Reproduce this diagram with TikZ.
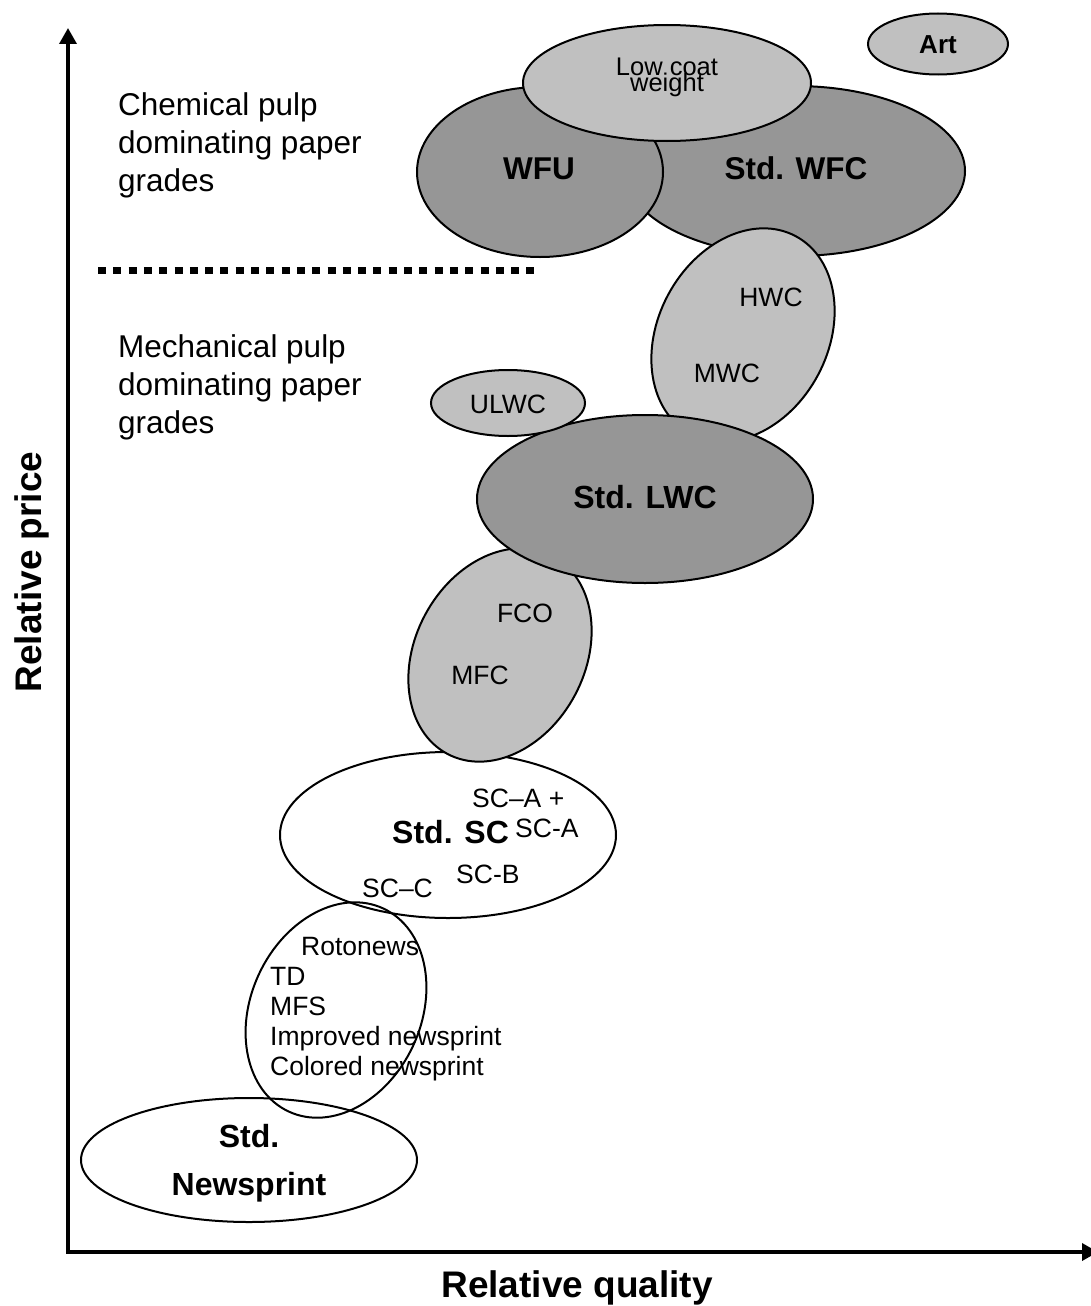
\documentclass[tikz,border=0pt]{standalone}
\usepackage{fontspec}
\setmainfont{Liberation Sans}
\usetikzlibrary{shapes.geometric,arrows.meta}

\definecolor{darkgrey}{RGB}{150,150,150}
\definecolor{lightgrey}{RGB}{192,192,192}

\tikzset{
  x=1pt, y=1pt,
  blob/.style={ellipse, draw=black, line width=2pt, inner sep=0pt},
  darkblob/.style={blob, fill=darkgrey},
  lightblob/.style={blob, fill=lightgrey},
  openblob/.style={blob},
  lbl/.style={inner sep=0pt, anchor=base, font=\fontsize{26.5}{30}\selectfont},
  lblw/.style={lbl, anchor=base west},
  boldlbl/.style={inner sep=0pt, anchor=base, font=\fontsize{32}{38}\selectfont\bfseries},
  boldlblw/.style={boldlbl, anchor=base west},
  zonetext/.style={inner sep=0pt, anchor=base west, font=\fontsize{31.5}{38}\selectfont},
  axistitle/.style={inner sep=0pt, anchor=base, font=\fontsize{37}{44}\selectfont\bfseries},
  axisline/.style={line width=3.5pt, line join=miter,
    {Triangle[length=16pt,width=17pt]}-{Triangle[length=16pt,width=17pt]}},
  divider/.style={line width=7pt, dash pattern=on 8pt off 7.3pt},
}

\begin{document}
\begin{tikzpicture}
\useasboundingbox (0,0) rectangle (1091,-1306);

% ---- chemical pulp grades ----
\node[darkblob, minimum width=340pt, minimum height=170pt] (wfc) at (795,-171) {};
\node[darkblob, minimum width=246pt, minimum height=170pt] (wfu) at (540,-172) {};
\node[lightblob, minimum width=288pt, minimum height=116pt] (lcw) at (667,-83) {};
\node[lightblob, minimum width=140pt, minimum height=61pt] (art) at (938,-44) {};

% ---- mechanical pulp grades ----
\node[lightblob, minimum width=224pt, minimum height=170pt, rotate=62] (hwc) at (743,-335) {};
\node[openblob, minimum width=336pt, minimum height=166pt] (sc) at (448,-835) {};
\node[openblob, minimum width=224pt, minimum height=170pt, rotate=65] (roto) at (336,-1010) {};
\node[openblob, minimum width=336pt, minimum height=124pt] (news) at (249,-1160) {};
\node[lightblob, minimum width=224pt, minimum height=170pt, rotate=62] (fco) at (500,-655) {};
\node[darkblob, minimum width=336pt, minimum height=168pt] (lwc) at (645,-499) {};
\node[lightblob, minimum width=154pt, minimum height=66pt] (ulwc) at (508,-403) {};

% ---- axes ----
\coordinate (ytip) at (68,-28);
\coordinate (origin) at (68,-1252);
\coordinate (xtip) at (1098,-1252);
\draw[axisline] (ytip) -- (origin) -- (xtip);

% ---- divider between the two groups ----
\coordinate (divL) at (98,-270);
\coordinate (divR) at (540,-270);
\draw[divider] (divL) -- (divR);

% ---- labels ----
\node[boldlbl, font=\fontsize{26}{30}\selectfont\bfseries] (tart) at (938,-53) {Art};
\node[lbl, font=\fontsize{25.5}{30}\selectfont] (tlcw1) at (667,-75) {Low coat};
\node[lbl, font=\fontsize{25.5}{30}\selectfont] (tlcw2) at (667,-91) {weight};
\node[boldlbl, font=\fontsize{31.5}{38}\selectfont\bfseries] (twfu) at (539,-179) {WFU};
\node[boldlbl, font=\fontsize{31.5}{38}\selectfont\bfseries] (twfc) at (796,-179) {Std. WFC};

\node[lbl] (thwc) at (771,-306) {HWC};
\node[lbl] (tmwc) at (727,-382) {MWC};
\node[lbl] (tulwc) at (508,-413) {ULWC};
\node[boldlbl] (tlwc) at (645,-508) {Std. LWC};
\node[lbl] (tfco) at (525,-622) {FCO};
\node[lbl] (tmfc) at (480,-684) {MFC};

\node[lblw] (tsca2) at (472,-807) {SC–A +};
\node[boldlblw] (tsc) at (392,-843) {Std. SC};
\node[lblw] (tsca) at (515,-837) {SC-A};
\node[lblw] (tscb) at (456,-883) {SC-B};
\node[lblw] (tscc) at (362,-897) {SC–C};

\node[lblw] (troto) at (301,-955) {Rotonews};
\node[lblw] (ttd) at (270,-985) {TD};
\node[lblw] (tmfs) at (270,-1015) {MFS};
\node[lblw] (timp) at (270,-1045) {Improved newsprint};
\node[lblw] (tcol) at (270,-1075) {Colored newsprint};

\node[boldlbl] (tstd) at (249,-1147) {Std.};
\node[boldlbl] (tnews) at (249,-1195) {Newsprint};

\node[zonetext] (chem1) at (118,-115) {Chemical pulp};
\node[zonetext] (chem2) at (118,-153) {dominating paper};
\node[zonetext] (chem3) at (118,-191) {grades};
\node[zonetext] (mech1) at (118,-357) {Mechanical pulp};
\node[zonetext] (mech2) at (118,-395) {dominating paper};
\node[zonetext] (mech3) at (118,-433) {grades};

\node[axistitle] (xlabel) at (577,-1297) {Relative quality};
\node[axistitle, rotate=90] (ylabel) at (41,-572) {Relative price};
\end{tikzpicture}
\end{document}
